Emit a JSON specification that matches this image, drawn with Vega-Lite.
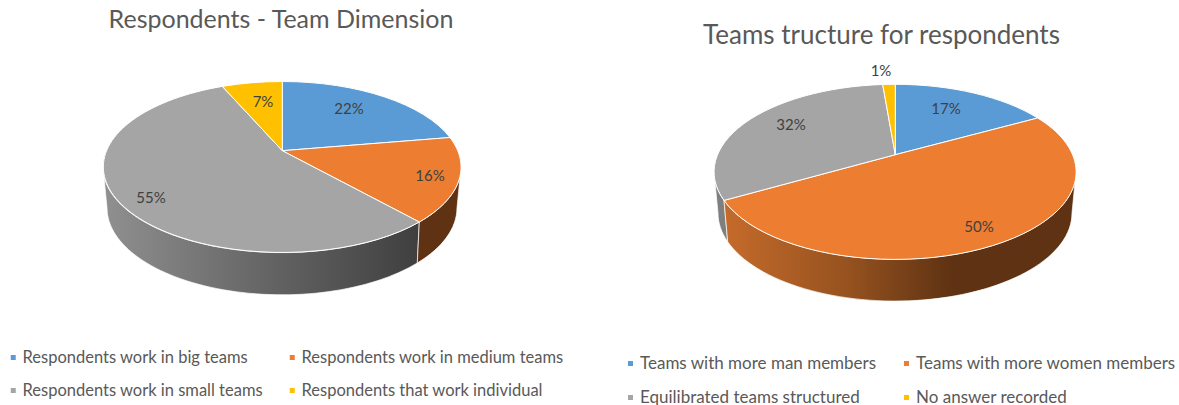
{"$schema":"https://vega.github.io/schema/vega-lite/v6.json","padding":0,"spacing":0,"autosize":{"type":"pad"},"background":"white","config":{"view":{"stroke":null},"font":"Lato"},"resolve":{"scale":{"color":"independent","shape":"independent"},"legend":{"color":"independent"}},"hconcat":[
{"width":590,"height":405,"title":{"text":"Respondents - Team Dimension","font":"Lato","fontSize":25,"fontWeight":"normal","color":"#595959","dx":-14,"offset":-33,"anchor":"middle"},
"data":{"values":[{"slice":"big","label":"Respondents work in big teams","share":0.22},{"slice":"medium","label":"Respondents work in medium teams","share":0.16},{"slice":"small","label":"Respondents work in small teams","share":0.55},{"slice":"individual","label":"Respondents that work individual","share":0.07}]},
"layer":[
{"transform":[{"filter":"datum.slice==='small'"}],"mark":{"type":"point","filled":true,"opacity":1,"size":4,"stroke":"#ffffff","strokeWidth":0.7,"fill":{"gradient":"linear","x1":0,"x2":1,"y1":0,"y2":0,"stops":[{"offset":0,"color":"#909090"},{"offset":0.5,"color":"#666666"},{"offset":1,"color":"#3f3f3f"}]},"shape":"M -192 -35.5 L -188 5.5 A 175 87 0 0 0 122.3 60.5 L 124.3 19.5 A 179 85.5 0 0 1 -192 -35.5 Z"},"encoding":{}},
{"transform":[{"filter":"datum.slice==='medium'"}],"mark":{"type":"point","filled":true,"opacity":1,"size":4,"stroke":"#ffffff","strokeWidth":0.7,"fill":"#5e3213","shape":"M 124.3 19.5 A 179 85.5 0 0 0 166 -35.5 L 162 5.5 A 175 87 0 0 1 122.3 60.5 Z"},"encoding":{}},
{"mark":{"type":"point","filled":true,"opacity":1,"size":4,"stroke":"#ffffff","strokeWidth":1},"encoding":{
"shape":{"field":"slice","type":"nominal","legend":null,"scale":{"domain":["big","medium","small","individual"],"range":["M -12.7 -51.8 L -12.7 -121 A 179 85.5 0 0 1 155 -65 Z","M -12.7 -51.8 L 155 -65 A 179 85.5 0 0 1 124.3 19.5 Z","M -12.7 -51.8 L 124.3 19.5 A 179 85.5 0 1 1 -72.7 -116.1 Z","M -12.7 -51.8 L -72.7 -116.1 A 179 85.5 0 0 1 -12.7 -121 Z"]}},
"color":{"field":"label","type":"nominal","scale":{"domain":["Respondents work in big teams","Respondents work in medium teams","Respondents work in small teams","Respondents that work individual"],"range":["#5b9bd5","#ed7d31","#a5a5a5","#ffc000"]},"legend":{"title":null,"orient":"none","direction":"horizontal","legendX":5,"legendY":348,"columns":2,"symbolType":"square","symbolSize":25,"symbolStrokeWidth":0,"labelFont":"Lato","labelFontSize":16.5,"labelColor":"#595959","labelOffset":1,"rowPadding":14,"columnPadding":21,"labelLimit":400,"clipHeight":19}}}},
{"transform":[{"filter":"datum.slice==='big'"}],"mark":{"type":"text","dx":54,"dy":-93.5,"fontSize":15,"color":"#404040","font":"Lato"},"encoding":{"text":{"field":"share","type":"quantitative","format":".0%"}}},
{"transform":[{"filter":"datum.slice==='medium'"}],"mark":{"type":"text","dx":135,"dy":-26.5,"fontSize":15,"color":"#404040","font":"Lato"},"encoding":{"text":{"field":"share","type":"quantitative","format":".0%"}}},
{"transform":[{"filter":"datum.slice==='small'"}],"mark":{"type":"text","dx":-144,"dy":-4.5,"fontSize":15,"color":"#404040","font":"Lato"},"encoding":{"text":{"field":"share","type":"quantitative","format":".0%"}}},
{"transform":[{"filter":"datum.slice==='individual'"}],"mark":{"type":"text","dx":-32,"dy":-100.5,"fontSize":15,"color":"#404040","font":"Lato"},"encoding":{"text":{"field":"share","type":"quantitative","format":".0%"}}}
]},
{"width":589,"height":405,"title":{"text":"Teams tructure for respondents","font":"Lato","fontSize":26,"fontWeight":"normal","color":"#595959","dx":-3,"offset":-49,"anchor":"middle"},
"data":{"values":[{"slice":"man","label":"Teams with more man members","share":0.17},{"slice":"women","label":"Teams with more women members","share":0.5},{"slice":"equal","label":"Equilibrated teams structured","share":0.32},{"slice":"none","label":"No answer recorded","share":0.01}]},
"layer":[
{"transform":[{"filter":"datum.slice==='equal'"}],"mark":{"type":"point","filled":true,"opacity":1,"size":4,"stroke":"#ffffff","strokeWidth":0.7,"fill":"#7f7f7f","shape":"M -170.5 -30.7 L -166.5 10.5 A 177 88 0 0 0 -156.8 39.3 L -160.5 -2.1 A 181 87.5 0 0 1 -170.5 -30.7 Z"},"encoding":{}},
{"transform":[{"filter":"datum.slice==='women'"}],"mark":{"type":"point","filled":true,"opacity":1,"size":4,"stroke":"#ffffff","strokeWidth":0.7,"fill":{"gradient":"linear","x1":0,"x2":1,"y1":0,"y2":0,"stops":[{"offset":0,"color":"#c56b2b"},{"offset":0.35,"color":"#96521f"},{"offset":0.65,"color":"#5e3213"},{"offset":1,"color":"#5e3213"}]},"shape":"M -160.5 -2.1 L -156.8 39.3 A 177 88 0 0 0 187.5 10.5 L 191.5 -30.7 A 181 87.5 0 0 1 -160.5 -2.1 Z"},"encoding":{}},
{"mark":{"type":"point","filled":true,"opacity":1,"size":4,"stroke":"#ffffff","strokeWidth":1},"encoding":{
"shape":{"field":"slice","type":"nominal","legend":null,"scale":{"domain":["man","women","equal","none"],"range":["M 10.8 -47.8 L 10.8 -118.2 A 181 87.5 0 0 1 153.2 -84.5 Z","M 10.8 -47.8 L 153.2 -84.5 A 181 87.5 0 1 1 -160.5 -2.1 Z","M 10.8 -47.8 L -160.5 -2.1 A 181 87.5 0 0 1 -1.8 -118 Z","M 10.8 -47.8 L -1.8 -118 A 181 87.5 0 0 1 10.8 -118.2 Z"]}},
"color":{"field":"label","type":"nominal","scale":{"domain":["Teams with more man members","Teams with more women members","Equilibrated teams structured","No answer recorded"],"range":["#5b9bd5","#ed7d31","#a5a5a5","#ffc000"]},"legend":{"title":null,"orient":"none","direction":"horizontal","legendX":32,"legendY":354,"columns":2,"symbolType":"square","symbolSize":25,"symbolStrokeWidth":0,"labelFont":"Lato","labelFontSize":17,"labelColor":"#595959","labelOffset":1,"rowPadding":15,"columnPadding":21,"labelLimit":400,"clipHeight":19}}}},
{"transform":[{"filter":"datum.slice==='man'"}],"mark":{"type":"text","dx":61.5,"dy":-93.5,"fontSize":15,"color":"#404040","font":"Lato"},"encoding":{"text":{"field":"share","type":"quantitative","format":".0%"}}},
{"transform":[{"filter":"datum.slice==='women'"}],"mark":{"type":"text","dx":94.5,"dy":24.5,"fontSize":15,"color":"#404040","font":"Lato"},"encoding":{"text":{"field":"share","type":"quantitative","format":".0%"}}},
{"transform":[{"filter":"datum.slice==='equal'"}],"mark":{"type":"text","dx":-93.5,"dy":-77.5,"fontSize":15,"color":"#404040","font":"Lato"},"encoding":{"text":{"field":"share","type":"quantitative","format":".0%"}}},
{"transform":[{"filter":"datum.slice==='none'"}],"mark":{"type":"text","dx":-3.5,"dy":-131.5,"fontSize":15,"color":"#404040","font":"Lato"},"encoding":{"text":{"field":"share","type":"quantitative","format":".0%"}}}
]}
]}
